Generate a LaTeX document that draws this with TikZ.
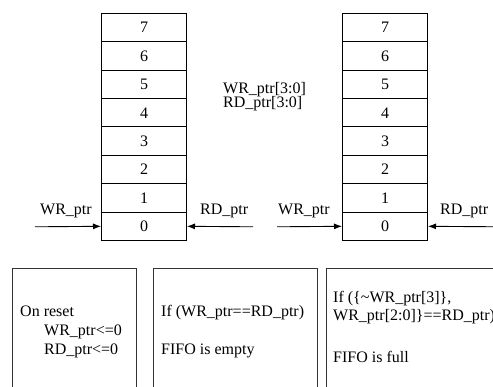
\documentclass[tikz,border=0pt]{standalone}
\usepackage{fontspec}
\setmainfont{Liberation Serif}
\usetikzlibrary{arrows.meta}
\begin{document}
\begin{tikzpicture}[x=1pt,y=-1pt,
  font=\fontsize{16}{19}\selectfont,
  cell/.style={draw, line width=1pt, minimum width=85pt, minimum height=28.375pt, inner sep=0pt, anchor=north west},
  lbl/.style={inner sep=0pt, anchor=base west},
  ptr/.style={line width=0.9pt, -{Latex[length=8pt,width=6pt]}},
  cond/.style={draw=black!80, line width=1pt, inner sep=0pt, anchor=north west, minimum height=132pt}]
\clip (0,0) rectangle (493,387);
% FIFO stacks
\foreach \i in {0,...,7} {
  \node[cell] (L\i) at (101, {13+(7-\i)*28.375}) {\i};
  \node[cell] (R\i) at (342, {13+(7-\i)*28.375}) {\i};
}
% pointer arrows
\coordinate (lw) at (35,226.8);
\coordinate (lr) at (253,226.8);
\coordinate (rw) at (277,226.8);
\coordinate (rr) at (500,226.8);
\draw[ptr] (lw) -- (L0.west);
\draw[ptr] (lr) -- (L0.east);
\draw[ptr] (rw) -- (R0.west);
\draw[ptr] (rr) -- (R0.east);
\node[lbl] (lwt) at (40,215) {WR\_ptr};
\node[lbl] (lrt) at (200,215) {RD\_ptr};
\node[lbl] (rwt) at (278,215) {WR\_ptr};
\node[lbl] (rrt) at (440,215) {RD\_ptr};
% middle text
\node[lbl] (mw) at (223,94) {WR\_ptr[3:0]};
\node[lbl] (mr) at (223,107.5) {RD\_ptr[3:0]};
% condition boxes
\node[cond, minimum width=124pt] (bA) at (12,268) {};
\node[cond, minimum width=164pt] (bB) at (153,268) {};
\node[cond, minimum width=174pt] (bC) at (326,268) {};
\node[lbl] (a1) at (20,317) {On reset};
\node[lbl] (a2) at (44,336) {WR\_ptr<=0};
\node[lbl] (a3) at (44,355) {RD\_ptr<=0};
\node[lbl] (b1) at (161,317) {If (WR\_ptr==RD\_ptr)};
\node[lbl] (b2) at (161,355) {FIFO is empty};
\node[lbl] (c1) at (333,303) {If (\{\textasciitilde WR\_ptr[3]\},};
\node[lbl] (c2) at (333,321) {WR\_ptr[2:0]\}==RD\_ptr)};
\node[lbl] (c3) at (333,363) {FIFO is full};
\end{tikzpicture}
\end{document}
